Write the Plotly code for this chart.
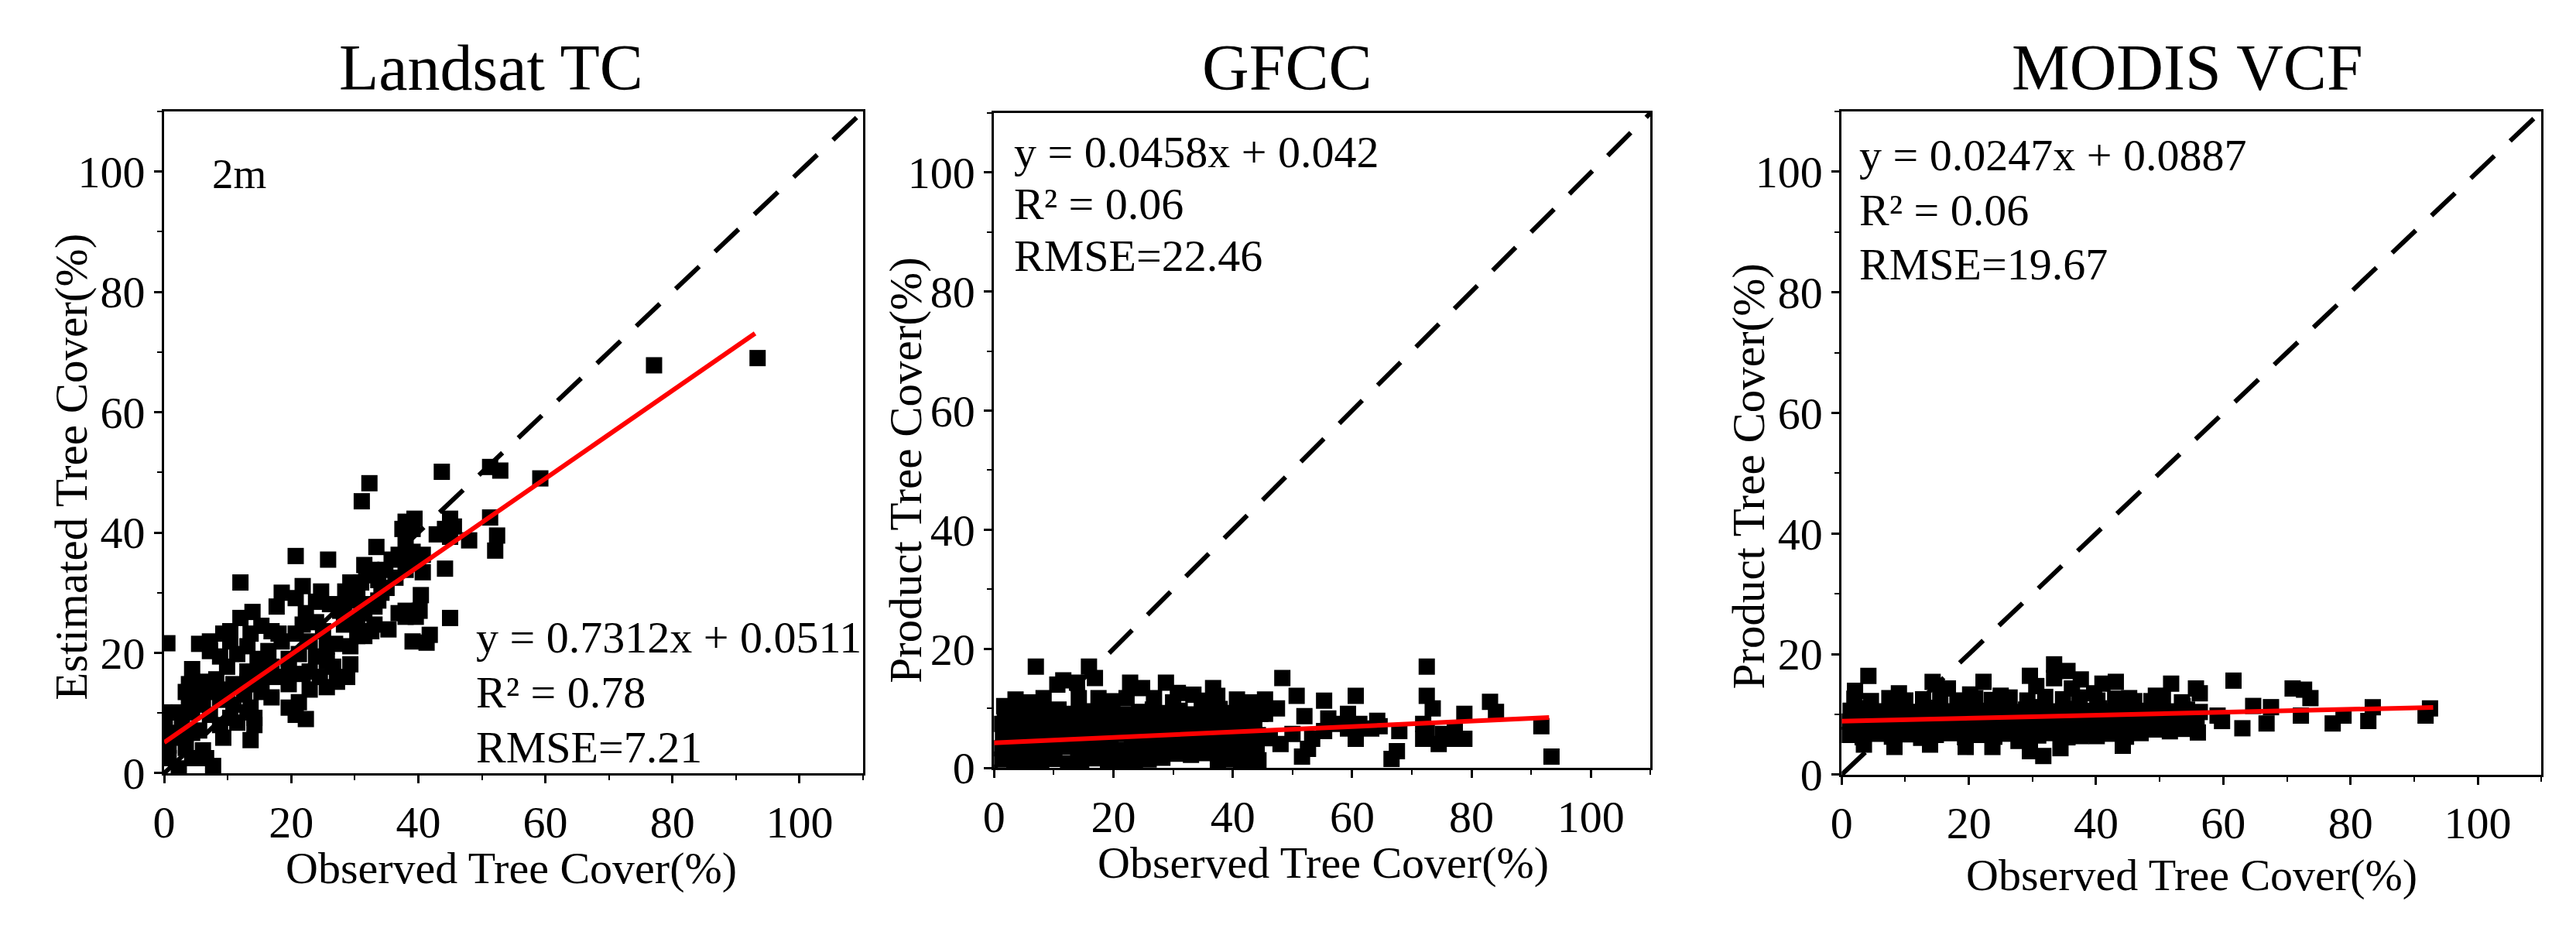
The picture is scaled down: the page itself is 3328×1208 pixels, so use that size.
import plotly.graph_objects as go

W, H = 3328, 1208
FONT = "Liberation Serif"

titles = ["Landsat TC", "GFCC", "MODIS VCF"]
x_title = "Observed Tree Cover(%)"
y_titles = ["Estimated Tree Cover(%)", "Product Tree Cover(%)", "Product Tree Cover(%)"]
stats = [
    ["y = 0.7312x + 0.0511", "R² = 0.78", "RMSE=7.21"],
    ["y = 0.0458x + 0.042", "R² = 0.06", "RMSE=22.46"],
    ["y = 0.0247x + 0.0887", "R² = 0.06", "RMSE=19.67"],
]
# regression: slope, intercept (%), x-extent of fitted line
fits = [(0.7312, 5.11, 93.0), (0.0458, 4.2, 93.0), (0.0247, 8.87, 93.0)]
tick_vals = [0, 20, 40, 60, 80, 100]
minor_vals = [10, 30, 50, 70, 90, 110]
axis_range = [0, 110]

landsat_pts = [
    (0.5, 21.6), (77.1, 67.8), (93.4, 69.0), (59.2, 49.0), (43.7, 50.1), (51.3, 50.9), (52.9, 50.3),
    (32.3, 48.2), (31.1, 45.2), (38.0, 41.8), (39.4, 42.3), (37.5, 40.6), (39.1, 40.6), (45.0, 42.3),
    (44.2, 40.6), (45.0, 39.3), (51.3, 42.5), (52.4, 39.5), (52.1, 37.0), (48.0, 38.7), (33.4, 37.6),
    (39.1, 36.8), (36.9, 36.3), (35.8, 35.5), (31.5, 34.6), (34.8, 33.8), (31.8, 32.9), (33.7, 32.1),
    (31.0, 31.7), (40.7, 33.4), (44.2, 34.0), (35.0, 30.8), (40.4, 29.6), (20.7, 36.1), (25.8, 35.5),
    (12.0, 31.7), (18.5, 30.0), (21.8, 31.1), (24.7, 30.2), (28.5, 30.2), (17.7, 27.7), (23.9, 28.5),
    (26.1, 28.1), (29.3, 28.7), (33.1, 27.7), (13.9, 26.8), (12.0, 25.8), (38.0, 27.0), (40.2, 27.0),
    (38.0, 26.0), (39.6, 26.0), (45.0, 25.8), (31.5, 26.6), (30.4, 25.4), (28.3, 24.7), (23.9, 25.1),
    (21.8, 24.7), (25.0, 23.6), (35.3, 23.9), (33.1, 24.7), (30.4, 22.8), (26.9, 21.5), (39.1, 21.9),
    (41.3, 21.7), (9.3, 23.2), (10.4, 21.9), (5.5, 21.5), (13.1, 21.1), (16.9, 23.6), (18.5, 21.9),
    (20.7, 23.2), (22.9, 21.9), (7.2, 20.3), (8.8, 19.4), (11.5, 19.8), (14.7, 19.0), (16.4, 20.3),
    (19.6, 19.0), (21.2, 19.8), (23.9, 19.4), (25.6, 18.6), (29.3, 18.1), (4.4, 17.3), (9.9, 17.7),
    (13.1, 16.9), (16.9, 17.7), (19.6, 17.3), (22.9, 16.9), (26.6, 17.7), (24.5, 16.0), (3.9, 14.8),
    (6.1, 15.2), (8.2, 15.6), (10.9, 14.8), (13.1, 15.2), (15.3, 14.8), (27.2, 15.2), (19.6, 14.8),
    (22.9, 13.9), (25.6, 14.3), (3.4, 13.5), (5.5, 13.1), (7.7, 13.5), (9.9, 13.9), (12.6, 13.1),
    (15.3, 13.5), (16.9, 12.6), (3.9, 11.8), (6.1, 11.4), (8.8, 12.2), (10.9, 11.4), (13.6, 10.9),
    (19.6, 10.9), (20.7, 9.7), (22.3, 9.0), (2.3, 10.1), (4.4, 10.1), (7.2, 9.7), (10.4, 9.2),
    (13.1, 10.1), (14.2, 9.2), (0.1, 10.1), (0.1, 8.4), (2.8, 8.0), (5.5, 7.1), (8.8, 8.0), (11.5, 8.4),
    (14.2, 8.0), (2.3, 5.9), (4.4, 6.7), (9.3, 5.9), (13.6, 5.5), (0.7, 4.6), (3.4, 4.2), (6.1, 3.8),
    (4.4, 2.5), (6.6, 2.5), (7.7, 1.2), (2.3, 0.8), (0.7, 2.5), (1.2, 6.7), (0.1, 5.5), (17.4, 16.0),
    (15.3, 16.5), (28.8, 16.0), (21.2, 11.8), (21.8, 16.5), (25.6, 21.1), (29.3, 21.1), (31.5, 22.8),
    (32.6, 23.6), (31.5, 28.1), (27.7, 27.0), (33.7, 28.7), (36.9, 26.6), (34.2, 30.0), (30.4, 29.6),
    (36.4, 32.5), (38.0, 33.8), (39.1, 35.5), (40.7, 36.3), (29.3, 31.7), (38.0, 38.9), (42.9, 39.7),
    (45.6, 41.0), (32.6, 33.8), (28.3, 27.9), (20.7, 29.1), (22.3, 26.6), (15.3, 24.5), (18.0, 23.2),
    (13.6, 23.2), (10.4, 23.6), (7.2, 21.9), (41.8, 23.0),
]

gfcc_pts = [
    # scattered points
    (7.0, 17.0), (15.9, 17.0), (16.9, 15.1), (48.3, 15.1), (72.5, 17.0), (72.5, 12.1), (73.5, 10.0),
    (60.6, 12.1), (59.3, 9.1), (83.1, 11.1), (84.1, 9.4), (78.8, 9.1), (78.8, 4.9), (76.5, 4.9),
    (74.5, 4.0), (71.9, 7.4), (71.9, 4.9), (67.9, 6.2), (67.5, 2.8), (66.6, 1.5), (64.2, 7.9),
    (63.2, 6.6), (60.6, 4.9), (59.3, 6.6), (91.7, 7.0), (93.4, 1.9), (56.0, 8.3), (55.3, 11.3),
    (52.0, 8.7), (50.7, 12.1), (51.6, 1.9), (52.6, 3.2), (48.0, 4.0), (50.0, 5.7), (55.3, 6.2),
    (57.3, 7.4), (61.2, 7.4), (64.6, 7.0), (75.2, 5.7), (77.2, 6.6), (72.5, 6.2), (47.4, 10.0),
    (45.4, 9.1), (44.0, 4.0), (44.0, 1.5), (41.4, 1.1), (53.3, 4.9),
    # upper edge of the dense cluster
    (3.6, 11.5), (8.3, 11.7), (10.6, 14.0), (11.6, 14.7), (13.9, 14.3), (14.2, 11.7), (22.8, 14.3),
    (24.8, 13.4), (22.2, 11.7), (28.8, 14.3), (30.8, 12.6), (36.7, 13.4), (37.4, 12.1), (40.7, 11.5),
    (45.4, 11.5), (33.4, 12.3), (26.8, 11.7), (17.5, 11.7), (1.7, 10.4), (6.0, 11.0), (19.8, 11.2),
    (30.0, 11.0), (34.8, 11.3), (42.9, 11.0),
    # dense cluster
    (1.2, 1.4), (3.4, 0.9), (5.6, 1.3), (7.9, 1.0), (10.1, 1.5), (12.4, 0.8), (14.6, 1.2), (16.9, 1.6),
    (19.1, 0.9), (21.4, 1.3), (23.6, 1.0), (25.9, 1.4), (28.2, 1.7), (37.5, 1.1), (39.8, 1.4),
    (42.1, 1.0), (44.3, 1.3), (30.5, 2.4), (33.0, 2.2), (35.4, 2.5),
    (0.6, 3.3), (2.8, 3.0), (5.1, 3.4), (7.3, 2.9), (9.6, 3.2), (11.8, 3.6), (14.1, 3.1), (16.3, 2.8),
    (18.6, 3.4), (20.8, 3.0), (23.1, 3.5), (25.3, 2.9), (27.6, 3.3), (29.8, 3.6), (32.1, 3.0),
    (34.3, 3.4), (36.6, 2.9), (38.8, 3.3), (41.1, 3.6), (43.3, 3.0),
    (1.5, 5.2), (3.7, 5.6), (6.0, 5.0), (8.2, 5.4), (10.5, 5.8), (12.7, 5.1), (15.0, 5.5), (17.2, 4.9),
    (19.5, 5.3), (21.7, 5.7), (24.0, 5.0), (26.2, 5.4), (28.5, 5.8), (30.7, 5.2), (33.0, 5.6),
    (35.2, 4.9), (37.5, 5.3), (39.7, 5.7), (42.0, 5.1), (44.2, 5.5), (46.2, 5.0),
    (0.9, 7.4), (3.1, 7.8), (5.4, 7.2), (7.6, 7.6), (9.9, 8.0), (12.1, 7.3), (14.4, 7.7), (16.6, 7.1),
    (18.9, 7.5), (21.1, 7.9), (23.4, 7.2), (25.6, 7.6), (27.9, 8.0), (30.1, 7.3), (32.4, 7.7),
    (34.6, 7.1), (36.9, 7.5), (39.1, 7.9), (41.4, 7.2), (43.6, 7.6),
    (1.8, 9.4), (4.1, 9.0), (6.3, 9.6), (8.6, 9.2), (10.8, 9.8), (13.1, 9.1), (15.3, 9.5), (17.6, 9.3),
    (19.8, 9.7), (22.1, 9.0), (24.3, 9.4), (26.6, 9.8), (28.8, 9.2), (31.1, 9.6), (33.3, 9.0),
    (35.6, 9.5), (37.8, 9.9), (40.1, 9.2), (42.3, 9.6), (44.6, 9.1),
]

modis_pts = [
    # scattered points
    (4.2, 16.4), (14.3, 15.4), (22.3, 15.4), (29.6, 16.4), (33.4, 18.3), (35.5, 17.2), (37.6, 15.8),
    (41.0, 15.1), (43.1, 15.4), (51.8, 15.1), (56.3, 13.5), (61.6, 15.6), (70.9, 14.3), (72.7, 14.1),
    (73.7, 12.7), (83.5, 11.2), (92.5, 11.0), (91.8, 9.8), (82.8, 8.9), (77.2, 8.5), (78.9, 9.8),
    (72.2, 9.8), (67.5, 11.2), (64.7, 11.4), (66.8, 8.5), (63.0, 7.7), (59.8, 8.9), (59.1, 9.8),
    (55.7, 7.7), (50.8, 8.1), (48.7, 7.7), (48.7, 12.2), (53.6, 11.4), (45.9, 11.8), (44.2, 4.8),
    (34.4, 4.4), (31.7, 3.1), (29.6, 3.9), (37.6, 6.4), (3.5, 5.0), (8.3, 4.6), (13.9, 5.0),
    (19.5, 4.6), (23.7, 4.6), (27.8, 5.6),
    # upper edge of the band
    (2.1, 13.9), (9.0, 13.5), (16.7, 14.3), (20.2, 13.3), (25.0, 13.1), (30.6, 14.7), (33.4, 16.0),
    (36.2, 14.3), (39.7, 13.5), (45.2, 12.7), (49.4, 13.1), (55.7, 14.3),
    # dense band
    (1.0, 6.6), (3.3, 6.2), (5.6, 6.8), (7.9, 6.3), (10.2, 6.7), (12.5, 6.1), (14.8, 6.6), (17.1, 6.9),
    (19.4, 6.2), (21.7, 6.6), (24.0, 6.3), (26.3, 6.8), (28.6, 6.1), (30.9, 6.5), (33.2, 6.9),
    (35.5, 6.2), (37.8, 6.7), (40.1, 6.4), (42.4, 6.8), (44.7, 6.3), (47.0, 6.9), (49.3, 7.5),
    (51.6, 7.2), (53.9, 7.6), (56.0, 7.0),
    (0.7, 8.8), (3.0, 8.4), (5.3, 8.9), (7.6, 8.5), (9.9, 8.8), (12.2, 8.3), (14.5, 8.7), (16.8, 9.0),
    (19.1, 8.4), (21.4, 8.8), (23.7, 8.5), (26.0, 8.9), (28.3, 8.3), (30.6, 8.7), (32.9, 9.1),
    (35.2, 8.4), (37.5, 8.8), (39.8, 8.6), (42.1, 9.0), (44.4, 8.4), (46.7, 8.9), (49.0, 8.6),
    (51.3, 9.0), (53.6, 8.7), (55.8, 9.1),
    (1.4, 10.6), (3.7, 11.0), (6.0, 10.5), (8.3, 10.9), (10.6, 10.4), (12.9, 10.8), (15.2, 11.1),
    (17.5, 10.5), (19.8, 10.9), (22.1, 10.6), (24.4, 11.0), (26.7, 10.4), (29.0, 10.8), (31.3, 11.2),
    (33.6, 10.5), (35.9, 10.9), (38.2, 10.6), (40.5, 11.0), (42.8, 10.5), (45.1, 10.9), (47.4, 10.6),
    (49.7, 11.0), (52.0, 10.5), (54.3, 10.8), (56.3, 10.4),
    (2.0, 12.6), (4.6, 12.2), (7.5, 12.7), (10.0, 12.3), (12.8, 12.5), (15.5, 12.9), (18.2, 12.3),
    (21.0, 12.7), (23.6, 12.4), (26.4, 12.8), (29.2, 12.3), (32.0, 12.9), (34.8, 12.5), (37.4, 12.8),
    (40.2, 12.3), (43.0, 12.6), (46.0, 12.2), (50.5, 12.5), (53.5, 12.0),
]

panels_pts = [landsat_pts, gfcc_pts, modis_pts]

# ---- layout (pixel geometry of plot areas) ----
boxes = [(198, 1105, 148, 1027), (1275, 2127, 150, 1020), (2375, 3283, 148, 1029)]


def px(x):
    return x / W


def py(y):
    return 1 - y / H


fig = go.Figure()
layout = dict(
    width=W, height=H, margin=dict(l=0, r=0, t=0, b=0, pad=0),
    paper_bgcolor="white", plot_bgcolor="white", showlegend=False,
    font=dict(family=FONT, color="black"),
)

for i, (pts, (x0, x1, y0, y1)) in enumerate(zip(panels_pts, boxes)):
    n = "" if i == 0 else str(i + 1)
    xa, ya = "x" + n, "y" + n
    fig.add_trace(go.Scatter(
        x=[p[0] for p in pts], y=[p[1] for p in pts], mode="markers", xaxis=xa, yaxis=ya,
        marker=dict(symbol="square", size=21, color="black", line=dict(width=0)),
    ))
    fig.add_trace(go.Scatter(
        x=axis_range, y=axis_range, mode="lines", xaxis=xa, yaxis=ya,
        line=dict(color="black", width=6, dash="42px,28px"),
    ))
    s, b, xe = fits[i]
    fig.add_trace(go.Scatter(
        x=[0, xe], y=[b, s * xe + b], mode="lines", xaxis=xa, yaxis=ya,
        line=dict(color="#ff0000", width=6),
    ))
    common = dict(
        range=axis_range, tickmode="array", tickvals=tick_vals, ticks="outside", ticklen=10,
        tickwidth=3, tickcolor="black", showline=True, linewidth=3, linecolor="black",
        mirror=True, showgrid=False, zeroline=False,
        tickfont=dict(family=FONT, size=58, color="black"),
        minor=dict(tickvals=minor_vals, ticks="outside", ticklen=6, tickwidth=2,
                   tickcolor="black", showgrid=False),
    )
    layout["xaxis" + n] = dict(common, domain=[px(x0), px(x1)], anchor=ya)
    layout["yaxis" + n] = dict(common, domain=[py(y1), py(y0)], anchor=xa)

fig.update_layout(**layout)

anns = []


def ann(text, x, y, size, xanchor="center", yanchor="middle", angle=0):
    anns.append(dict(text=text, x=px(x), y=py(y), xref="paper", yref="paper", showarrow=False,
                     xanchor=xanchor, yanchor=yanchor, textangle=angle,
                     font=dict(family=FONT, size=size, color="black")))


title_pos = [(622, 90), (1655, 90), (2824, 90)]
xt_pos = [(648, 1153), (1702, 1146), (2829, 1162)]
yt_pos = [(77, 620), (1160, 624), (2254, 632)]
stat_pos = [(601, [847, 920, 993]), (1299, [202, 271, 340]), (2396, [206, 279, 351])]

for i in range(3):
    ann(titles[i], *title_pos[i], 84)
    ann(x_title, *xt_pos[i], 58)
    ann(y_titles[i], *yt_pos[i], 59, angle=-90)
    sx, sys_ = stat_pos[i]
    for t, yy in zip(stats[i], sys_):
        ann(t, sx, yy, 58, xanchor="left")
ann("2m", 258, 231, 55, xanchor="left")

fig.update_layout(annotations=anns)
fig.write_html("out.html")
